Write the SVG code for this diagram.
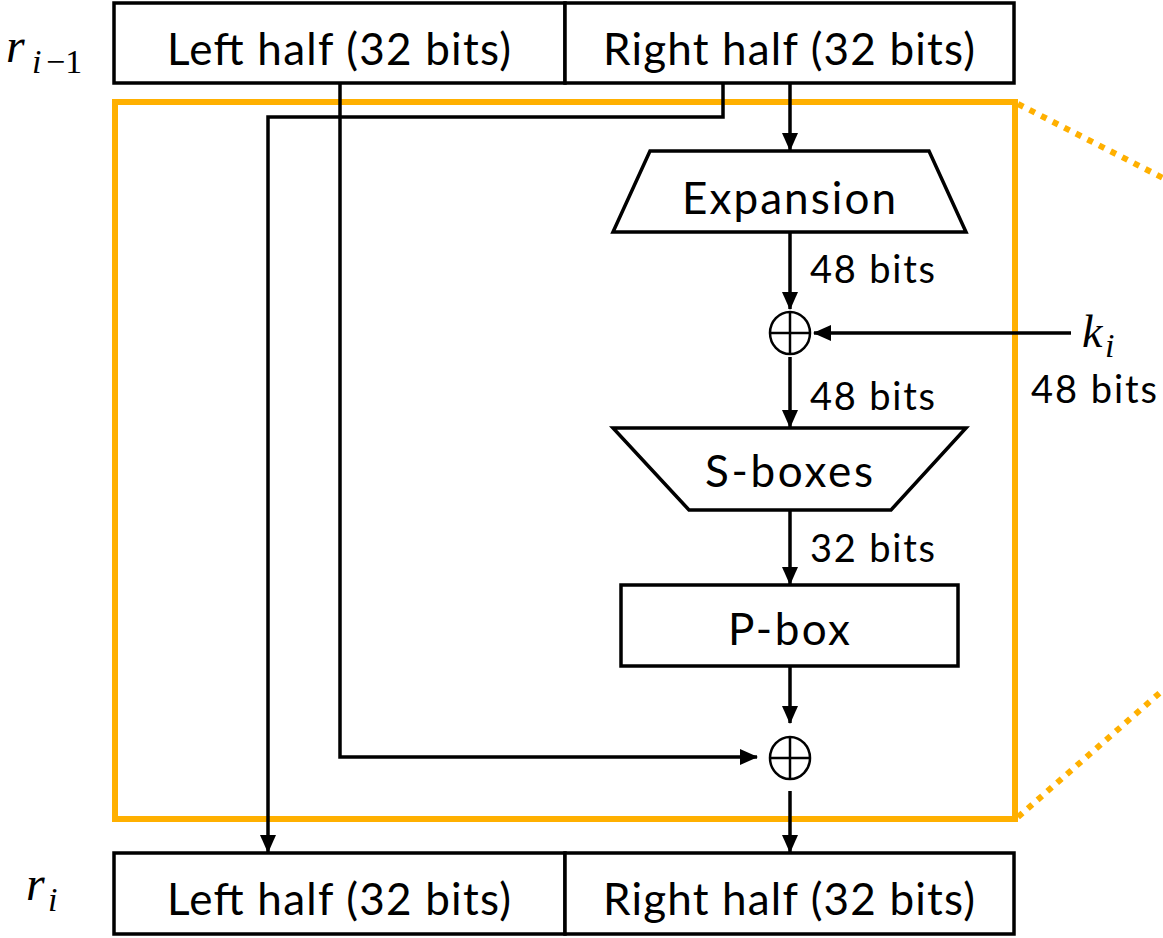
<svg xmlns="http://www.w3.org/2000/svg" width="1163" height="938" viewBox="0 0 1163 938">
  <style>
    .box { fill: #fff; stroke: #000; stroke-width: 3.5; }
    .lbl { font-family: Lato, "Open Sans", sans-serif; font-size: 44px; fill: #000; text-anchor: middle; }
    .bits { font-family: Lato, "Open Sans", sans-serif; font-size: 38px; fill: #000; }
    .math { font-family: "Liberation Serif", "DejaVu Serif", serif; font-style: italic; fill: #000; }
    .xor { fill: none; stroke: #000; stroke-width: 2.5; }
    .wire { fill: none; stroke: #000; stroke-width: 3.5; marker-end: url(#arrow); }
    .frame { fill: none; stroke: #FFB000; stroke-width: 6; }
    .zoom { fill: none; stroke: #FFB000; stroke-width: 6; stroke-dasharray: 6 7; }
  </style>
  <defs>
    <marker id="arrow" markerUnits="userSpaceOnUse" markerWidth="18" markerHeight="16" refX="17" refY="8" orient="auto">
      <path d="M0,0 L18,8 L0,16 Z" fill="#000"/>
    </marker>
  </defs>

  <!-- round frame and zoom guides -->
  <g id="round-frame">
    <rect class="frame" x="115" y="102" width="900" height="717"/>
    <path class="zoom" d="M1018,104 L1163,178"/>
    <path class="zoom" d="M1018,817 L1163,690"/>
  </g>

  <!-- input block r_{i-1} -->
  <g id="input-label">
    <text class="math" x="6" y="62" font-size="48">r</text>
    <text class="math" x="32" y="73" font-size="34">i</text>
    <text x="46" y="73" font-family="Liberation Serif, serif" font-size="34">−1</text>
  </g>
  <g id="input-left">
    <rect class="box" x="114" y="3" width="451" height="80"/>
    <text class="lbl" x="339" y="65" textLength="344">Left half (32 bits)</text>
  </g>
  <g id="input-right">
    <rect class="box" x="565" y="3" width="449" height="80"/>
    <text class="lbl" x="789" y="65" textLength="372">Right half (32 bits)</text>
  </g>

  <!-- round function -->
  <g id="expansion">
    <path class="box" d="M650,151 H929 L966,232 H613 Z"/>
    <text class="lbl" x="789" y="214" textLength="214">Expansion</text>
  </g>
  <g id="xor-key">
    <ellipse class="xor" cx="790" cy="333" rx="20" ry="21"/>
    <path class="xor" d="M770,333 H810 M790,312 V354"/>
  </g>
  <g id="key">
    <text class="math" x="1082" y="347" font-size="46">k</text>
    <text class="math" x="1105" y="357" font-size="34">i</text>
    <text class="bits" x="1031" y="403" textLength="126">48 bits</text>
  </g>
  <g id="sboxes">
    <path class="box" d="M613,428 H966 L891,510 H689 Z"/>
    <text class="lbl" x="789" y="487" textLength="168">S-boxes</text>
  </g>
  <g id="pbox">
    <rect class="box" x="621" y="585" width="337" height="81"/>
    <text class="lbl" x="789" y="645" textLength="122">P-box</text>
  </g>
  <g id="xor-left">
    <ellipse class="xor" cx="790" cy="758" rx="20" ry="21"/>
    <path class="xor" d="M770,758 H810 M790,737 V779"/>
  </g>

  <!-- output block r_i -->
  <g id="output-label">
    <text class="math" x="26" y="900" font-size="48">r</text>
    <text class="math" x="48" y="911" font-size="34">i</text>
  </g>
  <g id="output-left">
    <rect class="box" x="114" y="853" width="451" height="81"/>
    <text class="lbl" x="339" y="915" textLength="344">Left half (32 bits)</text>
  </g>
  <g id="output-right">
    <rect class="box" x="565" y="853" width="449" height="81"/>
    <text class="lbl" x="789" y="915" textLength="372">Right half (32 bits)</text>
  </g>

  <!-- connectors -->
  <g id="connectors">
    <path class="wire" d="M340,83 V757 H757"/>
    <path class="wire" d="M723,83 V117 H268 V852"/>
    <path class="wire" d="M790,83 V150"/>
    <path class="wire" d="M790,232 V309"/>
    <path class="wire" d="M1071,333 H814"/>
    <path class="wire" d="M790,357 V427"/>
    <path class="wire" d="M790,510 V584"/>
    <path class="wire" d="M790,666 V723"/>
    <path class="wire" d="M790,791 V852"/>
    <text class="bits" x="810" y="283" textLength="125">48 bits</text>
    <text class="bits" x="810" y="410" textLength="125">48 bits</text>
    <text class="bits" x="810" y="562" textLength="125">32 bits</text>
  </g>
</svg>
